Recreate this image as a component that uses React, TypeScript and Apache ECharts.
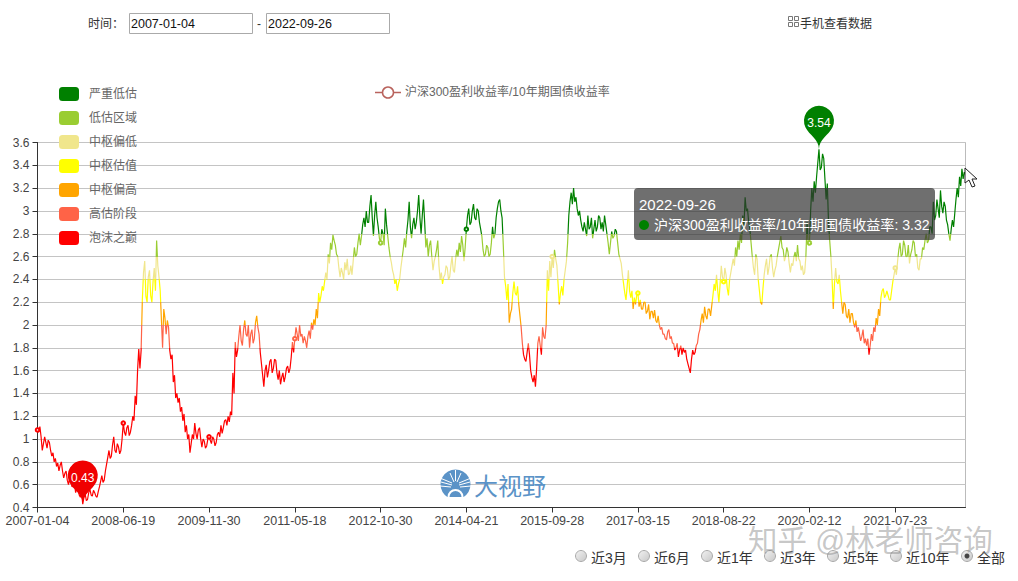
import React, { useEffect, useRef } from "react";
import * as echarts from "echarts";

const FONT = '"Liberation Sans","Noto Sans CJK SC",sans-serif';
const seriesName = "沪深300盈利收益率/10年期国债收益率";
const tickDates = ["2007-01-04","2008-06-19","2009-11-30","2011-05-18","2012-10-30","2014-04-21","2015-09-28","2017-03-15","2018-08-22","2020-02-12","2021-07-23","2022-09-26"];

const seg2007 = [1.08,1.06,1.11,1.02,0.90,0.96,1.02,0.97,0.92,0.99,0.97,0.90,0.85,0.88,0.80,0.83,0.76,0.79,0.72,0.77,0.80,0.72,0.66,0.70,0.72,0.64,0.60,0.66,0.64,0.58,0.60,0.62,0.53,0.57,0.56,0.51,0.49,0.53,0.43,0.49,0.52,0.46,0.47,0.53,0.56,0.51,0.50,0.55,0.53,0.50,0.49,0.54,0.58,0.63,0.68,0.62,0.64,0.72,0.78,0.84,0.90,0.83,0.85,0.95,1.02,0.90,0.88,0.96,0.93,0.87,0.90,1.00];
const seg2008 = [1.14,1.06,1.03,1.10,1.12,1.03,1.06,1.12,1.20,1.16,1.38,1.30,1.60,1.79,1.62,1.78,2.22,2.46,2.56,2.25,2.20,2.42,2.48,2.26,2.20,2.38,2.50,2.30,2.74,2.52,2.42,2.30,2.05,1.80,2.14,2.06,1.92,2.04,1.98,1.78,1.70,1.74,1.50,1.56,1.36,1.40,1.32,1.36,1.24,1.28,1.16,1.22,1.06,1.12,1.00,1.04,0.88,0.96,1.04,1.00,1.14,1.05,1.00,1.08,1.10,1.00,0.93,1.00,0.98,0.92,0.94,1.00];
const seg2009 = [1.02,0.99,0.96,1.02,1.00,0.94,0.97,1.04,1.06,1.02,1.12,1.05,1.10,1.16,1.17,1.12,1.20,1.15,1.24,1.21,1.58,1.40,1.85,1.72,1.78,1.90,2.00,1.86,1.82,1.96,2.04,1.92,1.90,2.00,1.80,1.92,1.96,1.84,1.88,2.02,2.08,1.98,1.92,1.76,1.66,1.56,1.46,1.60,1.65,1.54,1.60,1.68,1.70,1.58,1.62,1.70,1.69,1.58,1.52,1.60,1.48,1.54,1.58,1.50,1.55,1.62,1.64,1.58,1.62,1.72,1.85,1.76];
const seg2011 = [1.88,1.98,1.92,1.86,2.00,1.90,1.92,1.84,1.90,1.86,1.80,1.90,1.95,1.88,2.02,1.96,2.05,2.00,2.14,2.06,2.28,2.20,2.26,2.34,2.30,2.38,2.46,2.40,2.62,2.54,2.72,2.66,2.79,2.74,2.70,2.62,2.60,2.50,2.42,2.50,2.46,2.40,2.55,2.48,2.58,2.44,2.45,2.52,2.44,2.56,2.68,2.60,2.62,2.72,2.80,2.70,2.78,2.88,2.94,2.86,3.00,2.90,2.90,3.04,3.14,2.94,2.78,2.96,3.08,2.94,2.86,2.76];
const seg2012 = [2.72,2.84,2.80,2.70,3.02,2.88,2.78,2.68,2.60,2.55,2.48,2.44,2.36,2.40,2.30,2.36,2.40,2.50,2.58,2.66,2.76,2.68,2.82,2.92,3.08,2.86,2.76,2.88,2.94,2.84,2.90,3.00,3.14,2.94,2.80,2.96,3.10,2.90,2.68,2.76,2.60,2.70,2.74,2.60,2.48,2.56,2.60,2.66,2.74,2.52,2.40,2.46,2.36,2.42,2.44,2.52,2.50,2.40,2.42,2.52,2.60,2.48,2.46,2.58,2.66,2.60,2.72,2.64,2.78,2.70,2.56,2.68];
const seg2014 = [2.84,2.96,3.02,2.88,2.90,3.00,3.06,2.94,2.92,3.02,3.00,2.90,2.84,2.78,2.66,2.60,2.62,2.70,2.68,2.60,2.62,2.72,2.86,2.76,2.80,2.94,3.02,3.08,3.10,3.00,2.94,2.70,2.42,2.34,2.22,2.36,2.02,2.10,2.14,2.28,2.38,2.28,2.26,2.34,2.18,2.08,1.98,1.84,1.74,1.70,1.68,1.76,1.84,1.74,1.60,1.54,1.50,1.56,1.46,1.62,1.84,1.90,1.82,1.74,1.98,1.90,1.88,2.00,2.48,2.30,2.56,2.42];
const seg2015 = [2.60,2.50,2.66,2.58,2.52,2.36,2.18,2.28,2.34,2.26,2.40,2.48,2.56,2.72,2.96,3.08,3.16,3.06,3.20,3.08,3.12,3.02,2.96,3.00,2.92,2.86,2.82,2.90,2.84,2.78,2.96,2.84,2.86,2.94,2.76,2.84,2.92,2.82,2.86,2.96,2.94,2.84,2.90,2.82,2.96,2.88,2.80,2.72,2.62,2.72,2.82,2.76,2.78,2.84,2.82,2.72,2.62,2.58,2.54,2.44,2.36,2.28,2.22,2.34,2.48,2.30,2.24,2.30,2.14,2.24,2.18,2.26];
const seg2017 = [2.28,2.16,2.22,2.14,2.14,2.20,2.20,2.10,2.12,2.18,2.05,2.12,2.12,2.06,2.13,2.04,2.02,2.08,2.00,1.96,1.98,1.92,1.92,1.88,1.87,1.94,1.96,1.88,1.90,1.84,1.84,1.78,1.80,1.84,1.72,1.78,1.82,1.74,1.80,1.76,1.78,1.70,1.66,1.62,1.58,1.70,1.78,1.74,1.76,1.82,1.84,1.92,1.96,2.04,2.10,2.02,2.16,2.08,2.05,2.14,2.14,2.08,2.17,2.26,2.36,2.30,2.44,2.30,2.20,2.36,2.52,2.42];
const seg2018 = [2.38,2.50,2.44,2.32,2.26,2.40,2.46,2.52,2.58,2.52,2.68,2.60,2.74,2.66,2.80,2.72,2.96,2.86,3.12,3.00,3.02,2.90,2.84,2.72,2.60,2.50,2.44,2.62,2.58,2.40,2.30,2.20,2.18,2.32,2.44,2.52,2.58,2.44,2.50,2.60,2.62,2.50,2.42,2.48,2.52,2.60,2.66,2.72,2.78,2.68,2.66,2.56,2.60,2.68,2.64,2.54,2.46,2.54,2.52,2.60,2.64,2.56,2.70,2.58,2.56,2.48,2.52,2.44,2.46,2.60,2.90,2.70];
const seg2020 = [2.72,3.00,3.20,3.08,3.26,3.16,3.30,3.42,3.54,3.36,3.38,3.50,3.46,3.28,3.10,3.24,2.90,2.74,2.60,2.40,2.14,2.36,2.50,2.38,2.36,2.44,2.30,2.20,2.10,2.20,2.18,2.08,2.06,2.14,2.02,2.10,2.10,2.02,1.98,2.04,1.94,1.98,1.92,1.86,1.90,1.96,1.84,1.88,1.82,1.88,1.74,1.82,1.92,1.86,1.98,1.94,2.06,2.00,2.14,2.08,2.24,2.30,2.32,2.24,2.26,2.30,2.26,2.22,2.22,2.30,2.38,2.44];
const seg2021 = [2.50,2.44,2.56,2.66,2.72,2.60,2.62,2.74,2.70,2.60,2.60,2.70,2.54,2.62,2.66,2.74,2.72,2.60,2.62,2.50,2.48,2.58,2.58,2.68,2.66,2.74,2.80,2.72,2.74,2.86,2.86,2.80,3.08,2.92,2.96,3.10,3.02,2.94,3.18,3.04,2.98,3.08,3.04,2.92,2.88,2.80,2.74,2.84,2.92,2.86,2.98,3.10,3.20,3.12,3.30,3.22,3.37,3.28,3.34,3.32];
const segments = [seg2007,seg2008,seg2009,seg2011,seg2012,seg2014,seg2015,seg2017,seg2018,seg2020,seg2021];
const values = segments.flat();

const pieceLabels = ["泡沫之巅","高估阶段","中枢偏高","中枢估值","中枢偏低","低估区域","严重低估"];
const pieceColors = ["#ff0000","#ff6347","#ffa500","#ffff00","#f0e68c","#9acd32","#008000"];
const pieceBounds = [0,1.8,2.0,2.2,2.4,2.6,2.8,10];
const rangeLabels = ["近3月","近6月","近1年","近3年","近5年","近10年","全部"];
const radioX = [581,644,707,770,833,896,967];

function buildDates(): string[] {
  const out: string[] = [];
  segments.forEach((seg, k) => {
    const a = Date.parse(tickDates[k] + "T00:00:00Z");
    const b = Date.parse(tickDates[k + 1] + "T00:00:00Z");
    seg.forEach((_, i) => {
      const n = k === segments.length - 1 ? seg.length - 1 : seg.length;
      out.push(new Date(a + ((b - a) * i) / n).toISOString().slice(0, 10));
    });
  });
  return out;
}

const T = (x: number, y: number, text: string, fontSize: number, fill: string, extra: any = {}) => ({
  type: "text", x, y, z: 100,
  style: { text, fontSize, fill, fontFamily: FONT, verticalAlign: "middle", ...extra },
});

function graphics() {
  const g: any[] = [];
  g.push(T(88, 24, "时间：", 12, "#333"));
  g.push({ type: "rect", z: 100, shape: { x: 129.5, y: 13.5, width: 123, height: 20 }, style: { fill: "#fff", stroke: "#aaa", lineWidth: 1 } });
  g.push(T(131, 23.5, "2007-01-04", 12.5, "#111"));
  g.push(T(257, 24, "-", 12, "#333"));
  g.push({ type: "rect", z: 100, shape: { x: 266.5, y: 13.5, width: 123, height: 20 }, style: { fill: "#fff", stroke: "#aaa", lineWidth: 1 } });
  g.push(T(268, 23.5, "2022-09-26", 12.5, "#111"));
  [[788,16],[794,16],[788,22],[794,22]].forEach(([x, y]) =>
    g.push({ type: "rect", z: 100, shape: { x: x + 0.5, y: y + 0.5, width: 4, height: 4 }, style: { fill: "#fff", stroke: "#777", lineWidth: 1 } }));
  g.push(T(800, 24, "手机查看数据", 12, "#333"));
  // legend key of the single series
  g.push({ type: "line", z: 100, shape: { x1: 375, y1: 92.5, x2: 401, y2: 92.5 }, style: { stroke: "#b9635d", lineWidth: 1.5 } });
  g.push({ type: "circle", z: 101, shape: { cx: 388, cy: 92.5, r: 5.5 }, style: { fill: "#fff", stroke: "#b9635d", lineWidth: 1.5 } });
  g.push({ type: "circle", z: 1, shape: { cx: 455.5, cy: 484.5, r: 15 }, style: { fill: "#5b93c7" } });
  [[440,478,452,483],[441,482,452,485],[440,486,451,487],[471,478,459,483],[470,482,459,485],[471,486,460,487],[450,473,454,482],[461,473,457,482],[455.5,470,455.5,481]].forEach(([x1,y1,x2,y2]) =>
    g.push({ type: "line", z: 1, shape: { x1, y1, x2, y2 }, style: { stroke: "#fff", lineWidth: 1 } }));
  g.push({ type: "arc", z: 1, shape: { cx: 455.5, cy: 497, r: 7, startAngle: Math.PI, endAngle: 2 * Math.PI }, style: { stroke: "#fff", fill: "none", lineWidth: 2 } });
  g.push({ type: "rect", z: 1, shape: { x: 440, y: 497, width: 32, height: 4 }, style: { fill: "#fff" } });
  g.push({ ...T(474, 486, "大视野", 24, "#5b93c7"), z: 1 });
  g.push({ type: "rect", z: 100, shape: { x: 634, y: 188, width: 301, height: 52, r: 4 }, style: { fill: "rgba(50,50,50,0.7)" } });
  g.push(T(639, 204, tickDates[11], 15, "#fff"));
  g.push({ type: "circle", z: 101, shape: { cx: 644, cy: 225, r: 5 }, style: { fill: "#008000" } });
  g.push(T(654, 225, seriesName + ": " + values[values.length - 1].toFixed(2), 14.1, "#fff"));
  g.push({ type: "polygon", z: 110, shape: { points: [[965,168],[965,183],[969,180],[972,187],[975,186],[972,179],[977,179]] }, style: { fill: "#fff", stroke: "#222", lineWidth: 1 } });
  rangeLabels.forEach((label, i) => {
    g.push({ type: "circle", z: 100, shape: { cx: radioX[i], cy: 556, r: 5.5 }, style: {
      fill: new echarts.graphic.LinearGradient(0, 0, 1, 1, [{ offset: 0, color: "#f2f2f2" }, { offset: 1, color: "#c8c8c8" }]),
      stroke: "#aaa", lineWidth: 1 } });
    if (i === rangeLabels.length - 1) g.push({ type: "circle", z: 101, shape: { cx: radioX[i], cy: 556, r: 2.5 }, style: { fill: "#444" } });
    g.push(T(radioX[i] + 10, 558, label, 14, "#333"));
  });
  g.push({ ...T(748, 540, "知乎 @林老师咨询", 29.5, "rgba(130,130,130,0.45)"), z: 120 });
  return g;
}

export default function App() {
  const ref = useRef<HTMLDivElement>(null);
  useEffect(() => {
    const chart = echarts.init(ref.current!, undefined, { renderer: "svg" });
    chart.setOption({
      animation: false,
      textStyle: { fontFamily: FONT },
      legend: {
        left: 370, top: 80, itemWidth: 25, itemHeight: 14,
        data: [{ name: seriesName, icon: "none" }],
        textStyle: { color: "#666", fontSize: 12, fontFamily: FONT },
      },
      visualMap: {
        type: "piecewise", left: 44, top: 72, orient: "vertical",
        itemWidth: 20, itemHeight: 14, itemGap: 10, textGap: 10, itemSymbol: "roundRect",
        textStyle: { color: "#666", fontSize: 12, fontFamily: FONT },
        hoverLink: false, selectedMode: false,
        pieces: pieceLabels.map((label, i) => ({ gt: pieceBounds[i], lte: pieceBounds[i + 1], label, color: pieceColors[i] })),
        seriesIndex: 0, dimension: 1,
      },
      grid: { left: 37.5, top: 142.5, width: 928, height: 365, show: true, borderColor: "#bbb", borderWidth: 1, backgroundColor: "transparent" },
      xAxis: {
        type: "category", boundaryGap: false, data: buildDates(),
        axisLine: { onZero: false, lineStyle: { color: "#333" } },
        axisTick: { show: true, interval: 71, lineStyle: { color: "#333" } },
        axisLabel: { interval: 71, color: "#444", fontSize: 12.5, fontFamily: FONT, margin: 7 },
        splitLine: { show: false },
      },
      yAxis: {
        type: "value", min: 0.4, max: 3.6, interval: 0.2,
        axisLine: { show: true, lineStyle: { color: "#333" } },
        axisTick: { show: true, lineStyle: { color: "#333" } },
        axisLabel: { color: "#444", fontSize: 12, fontFamily: FONT },
        splitLine: { show: true, lineStyle: { color: "#c4c4c4", width: 1 } },
      },
      series: [{
        name: seriesName, type: "line", data: values, symbol: "emptyCircle", symbolSize: 3.5,
        lineStyle: { width: 1.2 }, itemStyle: { color: "#c23531", borderWidth: 0.5 }, z: 3,
        markPoint: {
          symbol: "pin", symbolSize: 50, silent: true,
          label: { color: "#fff", fontSize: 12, fontFamily: FONT },
          data: [
            { type: "max", itemStyle: { color: "#008000" } },
            { type: "min", itemStyle: { color: "#f00000" } },
          ],
        },
      }],
      graphic: { elements: graphics() },
    });
    return () => chart.dispose();
  }, []);
  return <div ref={ref} style={{ position: "fixed", left: 0, top: 0, width: 1018, height: 581, background: "#fff" }} />;
}
